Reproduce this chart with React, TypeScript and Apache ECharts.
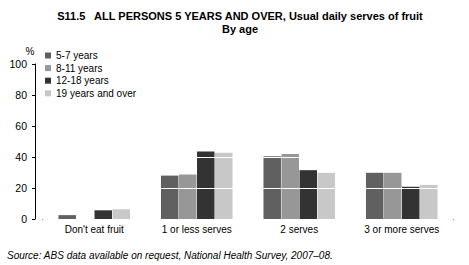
import React, { useEffect, useRef } from "react";
import * as echarts from "echarts";

const categories = ["Don't eat fruit", "1 or less serves", "2 serves", "3 or more serves"];
const seriesNames = ["5-7 years", "8-11 years", "12-18 years", "19 years and over"];
const age5to7 = [2.5, 28, 40.5, 29.8];
const age8to11 = [0, 28.7, 42, 29.8];
const age12to18 = [5.6, 43.5, 31.5, 20.8];
const age19plus = [6.3, 42.8, 29.8, 22];
const colors = ["#606060", "#979797", "#333333", "#c8c8c8"];

export default function App() {
  const ref = useRef<HTMLDivElement>(null);
  useEffect(() => {
    if (!ref.current) return;
    const chart = echarts.init(ref.current, null, { renderer: "svg" });
    const values = [age5to7, age8to11, age12to18, age19plus];
    const font = "Liberation Sans, Arial, sans-serif";
    chart.setOption({
      animation: false,
      textStyle: { fontFamily: font },
      title: [
        {
          text: "S11.5   ALL PERSONS 5 YEARS AND OVER, Usual daily serves of fruit\nBy age",
          left: 240,
          textAlign: "center",
          top: 9,
          padding: 0,
          textStyle: { fontSize: 11, fontWeight: "bold", color: "#000", lineHeight: 13, fontFamily: font },
        },
        {
          text: "Source: ABS data available on request, National Health Survey, 2007–08.",
          left: 7,
          top: 250,
          padding: 0,
          textStyle: { fontSize: 10, fontStyle: "italic", fontWeight: "normal", color: "#000", fontFamily: font },
        },
      ],
      legend: {
        orient: "vertical",
        left: 45,
        top: 50,
        padding: 0,
        z: 20,
        itemWidth: 6,
        itemHeight: 6,
        itemGap: 1.6,
        icon: "rect",
        textStyle: { fontSize: 10, color: "#000", lineHeight: 11, padding: [0, 0, 0, 0] },
        data: seriesNames,
      },
      grid: { left: 43, right: 16, top: 64, bottom: 46 },
      xAxis: {
        type: "category",
        data: categories,
        axisLine: { lineStyle: { color: "#000", width: 1 } },
        axisTick: { alignWithLabel: true, length: 4, lineStyle: { color: "#000" } },
        axisLabel: { fontSize: 10, color: "#000", margin: 5 },
      },
      yAxis: {
        type: "value",
        min: 0,
        max: 100,
        interval: 20,
        offset: 8,
        name: "%",
        nameLocation: "end",
        nameGap: 8,
        nameTextStyle: { fontSize: 10, color: "#000", align: "center", padding: [0, 10, 0, 0] },
        z: 5,
        axisLine: { show: true, lineStyle: { color: "#000", width: 1 } },
        axisTick: { show: true, length: 3, lineStyle: { color: "#000" } },
        axisLabel: { fontSize: 10.5, color: "#000", margin: 8, hideOverlap: false },
        splitLine: { show: true, lineStyle: { color: "#fff", width: 1 } },
      },
      series: seriesNames.map((name, i) => ({
        name,
        type: "bar",
        data: values[i],
        barWidth: 17.5,
        barGap: "3%",
        z: 2,
        itemStyle: { color: colors[i] },
      })),
    });
    return () => chart.dispose();
  }, []);
  return <div ref={ref} style={{ width: 469, height: 265, position: "absolute", left: 0, top: 0 }} />;
}
